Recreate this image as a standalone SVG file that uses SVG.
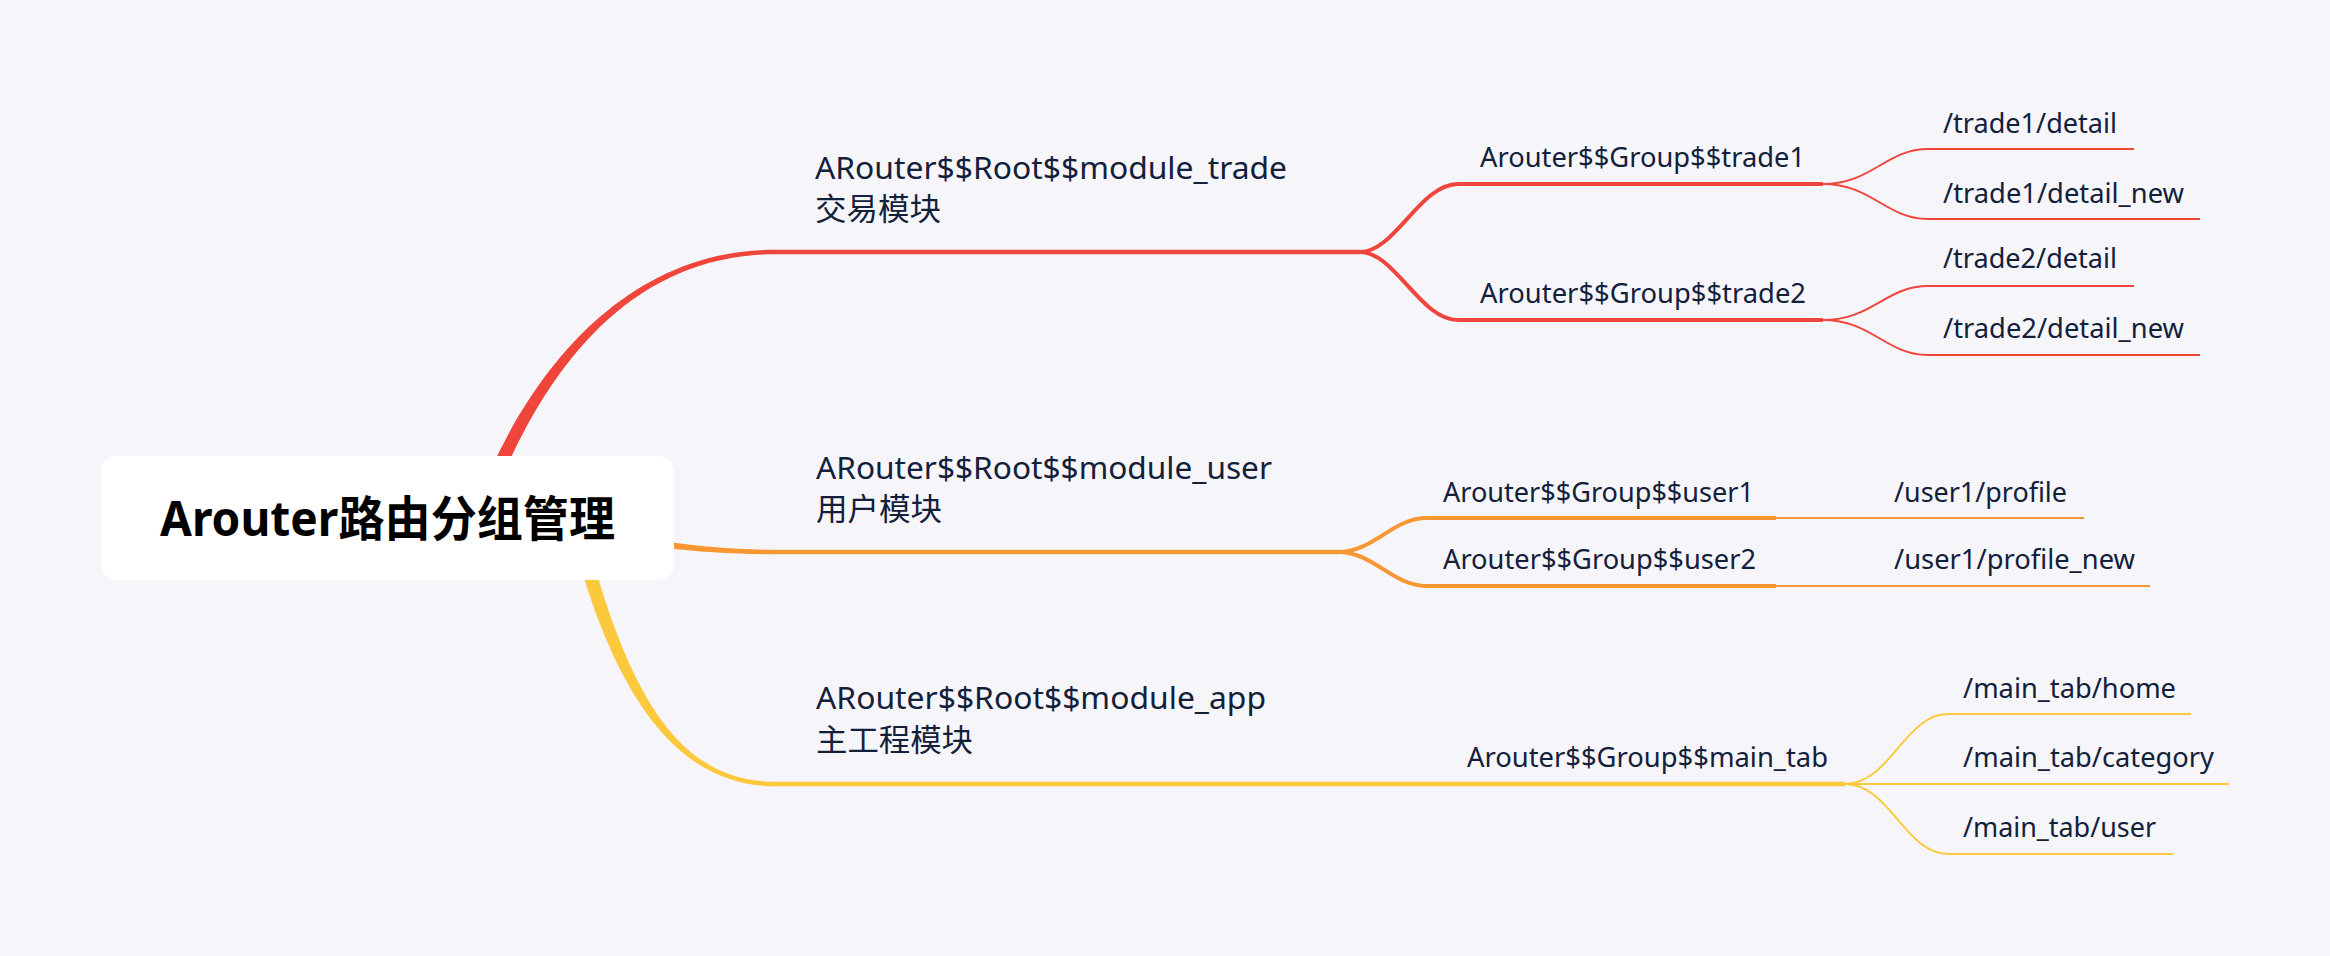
<svg xmlns="http://www.w3.org/2000/svg" width="2330" height="956" viewBox="0 0 2330 956">
<style>
.bg{fill:#F5F5FA}
.red{stroke:#F0453B;fill:none}
.org{stroke:#F89632;fill:none}
.yel{stroke:#FDC93C;fill:none}
.main{stroke-width:4.5}
.grp{stroke-width:4}
.leaf{stroke-width:2}
.t{font-family:"Noto Sans","Noto Sans CJK SC",sans-serif;fill:#13203A}
.mod{font-size:31px}
.sub{font-size:27px}
.root{font-family:"Noto Sans","Noto Sans CJK SC",sans-serif;font-size:48px;font-weight:bold;fill:#000}
</style>
<rect class="bg" x="0" y="0" width="2330" height="956"/>
<g id="connectors">
  <path fill="#F0453B" d="M 471.4 517.6 C 521.4 377.6, 622 249.5, 775 249.75 L 775 254.25 C 622 254.5, 534.6 382.4, 484.6 522.4 Z"/>
  <path fill="#F89632" d="M 560 524 C 640 538, 700 549.75, 775 549.75 L 775 554.25 C 700 554.25, 640 546, 560 532 Z"/>
  <path fill="#FDC93C" d="M 581.8 518.3 C 626.8 698.3, 680 781.75, 775 781.75 L 775 786.25 C 680 786.25, 613.2 701.7, 568.2 521.7 Z"/>
  <path class="red main" d="M 774 252 H 1360"/>
  <path class="red grp" d="M 1360 252 C 1395 252, 1420 184, 1458 184 H 1823"/>
  <path class="red grp" d="M 1360 252 C 1395 252, 1420 320, 1458 320 H 1823"/>
  <path class="red leaf" d="M 1823 184 C 1872 184, 1886 149, 1928 149 H 2134"/>
  <path class="red leaf" d="M 1823 184 C 1872 184, 1886 219, 1928 219 H 2200"/>
  <path class="red leaf" d="M 1823 320 C 1872 320, 1886 286, 1928 286 H 2134"/>
  <path class="red leaf" d="M 1823 320 C 1872 320, 1886 355, 1928 355 H 2200"/>
  <path class="org main" d="M 774 552 H 1338"/>
  <path class="org grp" d="M 1338 552 C 1374 552, 1392 518, 1427 518 H 1776"/>
  <path class="org grp" d="M 1338 552 C 1374 552, 1392 586, 1427 586 H 1776"/>
  <path class="org leaf" d="M 1776 518 H 2084"/>
  <path class="org leaf" d="M 1776 586 H 2150"/>
  <path class="yel main" d="M 774 784 H 1845"/>
  <path class="yel leaf" d="M 1845 784 C 1890 784, 1905 714, 1948 714 H 2191"/>
  <path class="yel leaf" d="M 1845 784 H 2229"/>
  <path class="yel leaf" d="M 1845 784 C 1890 784, 1905 854, 1948 854 H 2173"/>
</g>
<g id="root">
  <rect x="101" y="456" width="573" height="124" rx="15" fill="#FFFFFF"/>
  <text class="root" x="160" y="536" textLength="455" lengthAdjust="spacingAndGlyphs">Arouter路由分组管理</text>
</g>
<g id="module_trade">
  <text class="t mod" x="815" y="179" textLength="472" lengthAdjust="spacingAndGlyphs">ARouter$$Root$$module_trade</text>
  <text class="t mod" x="815" y="220" textLength="126" lengthAdjust="spacingAndGlyphs">交易模块</text>
</g>
<g id="module_user">
  <text class="t mod" x="816" y="479" textLength="456" lengthAdjust="spacingAndGlyphs">ARouter$$Root$$module_user</text>
  <text class="t mod" x="816" y="520" textLength="126" lengthAdjust="spacingAndGlyphs">用户模块</text>
</g>
<g id="module_app">
  <text class="t mod" x="816" y="709" textLength="450" lengthAdjust="spacingAndGlyphs">ARouter$$Root$$module_app</text>
  <text class="t mod" x="816" y="751" textLength="157" lengthAdjust="spacingAndGlyphs">主工程模块</text>
</g>
<g id="group_trade1">
  <text class="t sub" x="1480" y="167" textLength="325" lengthAdjust="spacingAndGlyphs">Arouter$$Group$$trade1</text>
</g>
<g id="group_trade2">
  <text class="t sub" x="1480" y="303" textLength="326" lengthAdjust="spacingAndGlyphs">Arouter$$Group$$trade2</text>
</g>
<g id="group_user1">
  <text class="t sub" x="1443" y="502" textLength="311" lengthAdjust="spacingAndGlyphs">Arouter$$Group$$user1</text>
</g>
<g id="group_user2">
  <text class="t sub" x="1443" y="569" textLength="313" lengthAdjust="spacingAndGlyphs">Arouter$$Group$$user2</text>
</g>
<g id="group_main_tab">
  <text class="t sub" x="1467" y="767" textLength="361" lengthAdjust="spacingAndGlyphs">Arouter$$Group$$main_tab</text>
</g>
<g id="leaf_trade1_detail"><text class="t sub" x="1943" y="133" textLength="174" lengthAdjust="spacingAndGlyphs">/trade1/detail</text></g>
<g id="leaf_trade1_detail_new"><text class="t sub" x="1943" y="203" textLength="241" lengthAdjust="spacingAndGlyphs">/trade1/detail_new</text></g>
<g id="leaf_trade2_detail"><text class="t sub" x="1943" y="268" textLength="174" lengthAdjust="spacingAndGlyphs">/trade2/detail</text></g>
<g id="leaf_trade2_detail_new"><text class="t sub" x="1943" y="338" textLength="241" lengthAdjust="spacingAndGlyphs">/trade2/detail_new</text></g>
<g id="leaf_user1_profile"><text class="t sub" x="1894" y="502" textLength="173" lengthAdjust="spacingAndGlyphs">/user1/profile</text></g>
<g id="leaf_user1_profile_new"><text class="t sub" x="1894" y="569" textLength="241" lengthAdjust="spacingAndGlyphs">/user1/profile_new</text></g>
<g id="leaf_main_tab_home"><text class="t sub" x="1963" y="698" textLength="213" lengthAdjust="spacingAndGlyphs">/main_tab/home</text></g>
<g id="leaf_main_tab_category"><text class="t sub" x="1963" y="767" textLength="251" lengthAdjust="spacingAndGlyphs">/main_tab/category</text></g>
<g id="leaf_main_tab_user"><text class="t sub" x="1963" y="837" textLength="193" lengthAdjust="spacingAndGlyphs">/main_tab/user</text></g>
</svg>
